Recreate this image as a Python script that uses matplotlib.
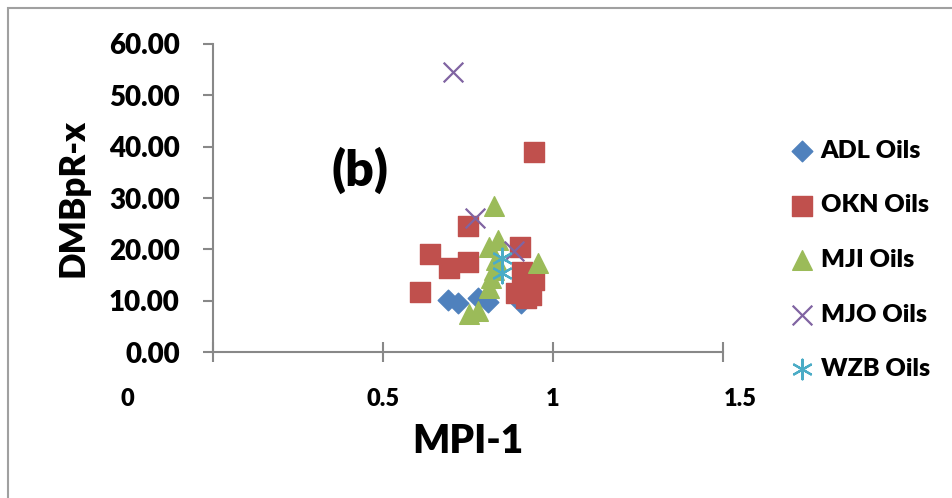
import matplotlib
matplotlib.use('Agg')
import matplotlib.pyplot as plt
import matplotlib.transforms as mtransforms
from matplotlib.patches import Rectangle

plt.rcParams['font.family'] = ['Lato', 'DejaVu Sans']
plt.rcParams['font.weight'] = 'heavy'

# MPI-1 (x) vs DMBpR-x (y)
adl_x = [0.69, 0.72, 0.78, 0.81, 0.905]
adl_y = [10.1, 9.5, 10.5, 9.8, 9.5]

okn_x = [0.944, 0.751, 0.638, 0.693, 0.751, 0.609, 0.902, 0.89, 0.935, 0.944, 0.91, 0.92]
okn_y = [39.0, 24.6, 19.1, 16.3, 17.5, 11.6, 20.4, 11.4, 11.1, 14.0, 15.5, 10.6]

mji_x = [0.825, 0.837, 0.812, 0.957, 0.832, 0.827, 0.817, 0.812, 0.754, 0.778]
mji_y = [28.5, 21.8, 20.5, 17.3, 18.0, 16.0, 14.4, 12.4, 7.5, 7.9]

mjo_x = [0.705, 0.771, 0.886]
mjo_y = [54.6, 26.1, 19.6]

wzb_x = [0.851, 0.851]
wzb_y = [18.3, 15.4]

fig = plt.figure(figsize=(9.52, 4.98), dpi=100)
ax = fig.add_axes([213/952, 1-352/498, (723-213)/952, (352-44)/498])

# outer frame of the chart area (cut at right and bottom)
fig.patches.append(Rectangle((8/952, -0.1), 1.1, 1 - 8/498 + 0.1,
                             transform=fig.transFigure, fill=False,
                             edgecolor='#a0a0a0', linewidth=1.5))

ax.scatter(adl_x, adl_y, marker='D', s=110, color='#4F81BD', label='ADL Oils', zorder=3)
ax.scatter(okn_x, okn_y, marker='s', s=210, color='#C0504D', label='OKN Oils', zorder=3)
ax.scatter(mji_x, mji_y, marker='^', s=200, color='#9BBB59', label='MJI Oils', zorder=3)
ax.scatter(mjo_x, mjo_y, marker='x', s=200, color='#8064A2', linewidths=1.6,
           label='MJO Oils', zorder=4)
ax.scatter(wzb_x, wzb_y, marker=(6, 2, 0), s=200, color='#4BACC6', linewidths=1.6,
           label='WZB Oils', zorder=4)

ax.set_xlim(0, 1.5)
ax.set_ylim(0, 60)
ax.set_yticks([0, 10, 20, 30, 40, 50, 60])
ax.set_yticklabels(['%.2f' % v for v in [0, 10, 20, 30, 40, 50, 60]])
ax.set_xticks([0, 0.5, 1, 1.5])
ax.set_xticklabels(['0', '0.5', '1', '1.5'])

for s in ['top', 'right']:
    ax.spines[s].set_visible(False)
for s in ['left', 'bottom']:
    ax.spines[s].set_color('#888888')
    ax.spines[s].set_linewidth(1.5)

ax.tick_params(axis='y', direction='out', length=7, width=1.5, color='#888888',
               pad=17, labelsize=20)
ax.tick_params(axis='x', direction='inout', length=14, width=1.5, color='#888888',
               pad=19, labelsize=17)

# shift "0" and "1.5" labels like in the original
labs = ax.get_xticklabels()
labs[0].set_transform(labs[0].get_transform() +
                      mtransforms.ScaledTranslation(-86/100, 0, fig.dpi_scale_trans))
labs[3].set_transform(labs[3].get_transform() +
                      mtransforms.ScaledTranslation(17/100, 0, fig.dpi_scale_trans))

ax.set_xlabel('MPI-1', fontsize=28, fontweight='heavy', labelpad=9)
ax.set_ylabel('DMBpR-x', fontsize=25, fontweight='heavy', labelpad=14)

ax.text(0.288, 0.59, '(b)', transform=ax.transAxes, fontsize=36,
        fontweight='heavy', ha='center', va='center')

ax.legend(loc='upper left', bbox_to_anchor=(777/952, 1-130/498),
          bbox_transform=fig.transFigure, frameon=False, fontsize=18,
          labelspacing=1.3, handletextpad=0.15, borderaxespad=0,
          handlelength=1.2)

fig.savefig('out.png', dpi=100)
